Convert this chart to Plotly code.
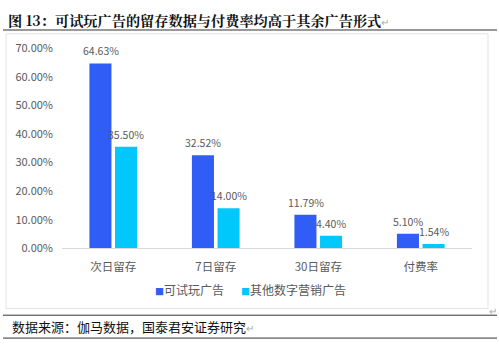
import plotly.graph_objects as go

categories = ["次日留存", "7日留存", "30日留存", "付费率"]
playable = [64.63, 32.52, 11.79, 5.10]
other_digital = [35.50, 14.00, 4.40, 1.54]
series_names = ["可试玩广告", "其他数字营销广告"]
y_ticks = [0, 10, 20, 30, 40, 50, 60, 70]

W, H = 499, 347
BLUE = "#2F5DF5"
CYAN = "#00C8FA"
GREY_TXT = "#595959"
FONT = "Noto Sans CJK SC"

def px(x):
    return x / W

def py(y):
    return 1 - y / H

fig = go.Figure()
series = [(series_names[0], playable, BLUE), (series_names[1], other_digital, CYAN)]
for name, vals, col in series:
    fig.add_trace(go.Bar(
        x=categories, y=[v / 100 for v in vals], name=name,
        marker=dict(color=col, line=dict(width=0)),
        cliponaxis=False, showlegend=False,
    ))

fig.update_layout(
    width=W, height=H,
    margin=dict(l=0, r=0, t=0, b=0),
    paper_bgcolor="white", plot_bgcolor="white",
    barmode="group", bargap=0.5, bargroupgap=0.14,
    font=dict(family=FONT, color=GREY_TXT),
    xaxis=dict(domain=[px(62), px(472)], showline=True, linecolor="#D9D9D9", linewidth=1,
               ticks="", tickfont=dict(size=11.5, color=GREY_TXT), fixedrange=True,
               ticklabelstandoff=8),
    yaxis=dict(domain=[py(251), py(41)], range=[0, 0.7], tickvals=[t / 100 for t in y_ticks],
               ticktext=[f"{t:.2f}%" for t in y_ticks], showgrid=False, zeroline=False,
               tickfont=dict(size=11, color=GREY_TXT), ticklabelstandoff=8),
    showlegend=False,
)

# value labels above each bar (bar slot is half of a 102px category band -> +/-12.75px)
for (name, vals, col), dx in zip(series, [-12.75, 12.75]):
    for cat, v in zip(categories, vals):
        fig.add_annotation(x=cat, y=v / 100, xref="x", yref="y", xshift=dx, yshift=3,
                           xanchor="center", yanchor="bottom", showarrow=False,
                           text=f"{v:.2f}%", font=dict(size=10.5, color=GREY_TXT, family=FONT))

shapes = [
    dict(type="line", xref="paper", yref="paper", x0=px(3), x1=px(497), y0=py(22), y1=py(22),
         line=dict(color="#333333", width=1)),
    dict(type="rect", xref="paper", yref="paper", x0=px(6), x1=px(488), y0=py(314), y1=py(26),
         line=dict(color="#E3E3E3", width=1)),
    dict(type="line", xref="paper", yref="paper", x0=px(3), x1=px(497), y0=py(321), y1=py(321),
         line=dict(color="#333333", width=1)),
    dict(type="line", xref="paper", yref="paper", x0=px(3), x1=px(497), y0=py(345), y1=py(345),
         line=dict(color="#333333", width=1)),
]
fig.update_layout(shapes=shapes)

# legend: coloured square followed by series name
for x0, name, col in [(153, series_names[0], BLUE), (239, series_names[1], CYAN)]:
    fig.add_annotation(xref="paper", yref="paper", x=px(x0), y=py(294), xanchor="left", yanchor="middle",
                       text=f"<span style='color:{col};font-size:9px'>■</span>{name}",
                       showarrow=False, font=dict(size=12, color=GREY_TXT, family=FONT))

fig.add_annotation(xref="paper", yref="paper", x=px(6), y=py(12), xanchor="left", yanchor="middle",
                   text="<b>图 13：可试玩广告的留存数据与付费率均高于其余广告形式</b><span style='color:#AAAAAA;font-size:10px'>↵</span>",
                   showarrow=False, font=dict(size=14.2, color="#111111", family="Noto Serif CJK SC, " + FONT))
fig.add_annotation(xref="paper", yref="paper", x=px(10), y=py(333), xanchor="left", yanchor="middle",
                   text="数据来源：伽马数据，国泰君安证券研究<span style='color:#AAAAAA;font-size:10px'>↵</span>",
                   showarrow=False, font=dict(size=13, color="#111111", family=FONT))
fig.add_annotation(xref="paper", yref="paper", x=px(493), y=py(316), xanchor="center", yanchor="middle",
                   text="↵", showarrow=False, font=dict(size=10, color="#AAAAAA", family=FONT))

fig.write_html("out.html")
